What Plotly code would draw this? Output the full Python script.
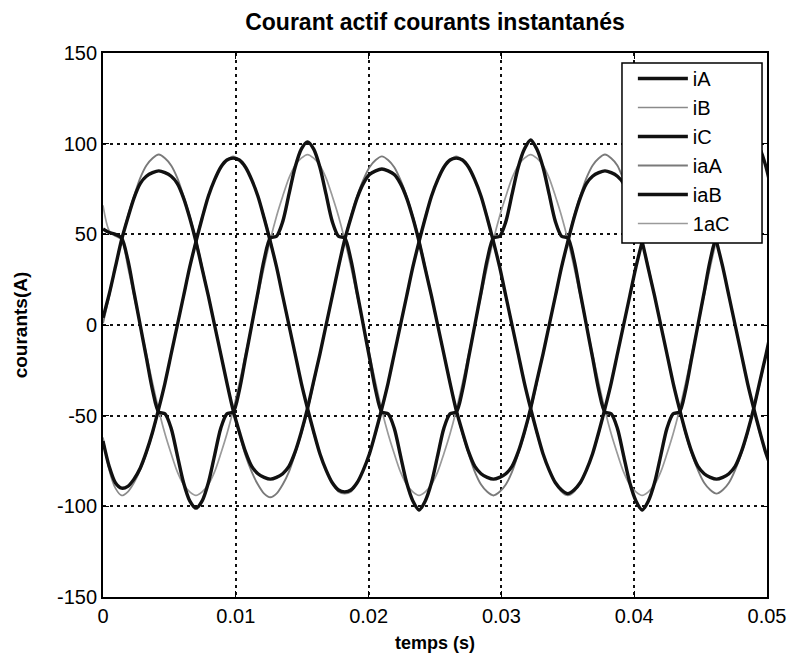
import plotly.graph_objects as go

# Sampling of the traces: one sample every 10 degrees
# of a 0.0168 s period, starting at t = 0
T_START = 0.0
T_STEP = 0.0168 / 36

iA = [4, 17, 32, 47, 59, 70, 78, 82, 84, 85, 84, 82, 78, 70, 59, 46, 31, 16, 0, -16, -32, -47, -59, -70, -78, -82, -84, -85, -84, -82, -78, -70, -59, -46, -31, -16,
      0, 16, 32, 47, 59, 70, 78, 83, 85, 86, 85, 83, 78, 70, 59, 46, 31, 16, 0, -16, -32, -47, -59, -70, -78, -82, -84, -85, -84, -82, -78, -70, -59, -46, -31, -16,
      0, 16, 32, 46, 59, 70, 78, 82, 84, 85, 84, 82, 78, 70, 59, 46, 31, 16, 0, -16, -32, -46, -59, -70, -78, -82, -84, -85, -84, -82, -78, -70, -59, -46, -31, -16,
      0]

iB = [-62, -80, -90, -94, -92, -87, -80, -71, -60, -46, -32, -16, 0, 16, 32, 47, 60, 71, 80, 87, 91, 93, 91, 87, 80, 71, 60, 47, 32, 16, 0, -16, -32, -46, -60, -71,
      -80, -87, -92, -93, -92, -87, -80, -71, -60, -46, -32, -16, 0, 16, 32, 46, 60, 71, 80, 87, 91, 93, 91, 87, 80, 71, 60, 46, 32, 16, 0, -16, -32, -46, -60, -71,
      -80, -87, -92, -94, -92, -87, -80, -71, -60, -46, -32, -16, 0, 16, 32, 46, 60, 71, 80, 87, 91, 93, 91, 87, 80, 71, 60, 46, 32, 16, 0, -16, -32, -46, -60, -71,
      -80]

iC = [53, 51, 50, 48, 36, 18, 0, -18, -36, -48, -49, -57, -72, -87, -97, -101, -97, -87, -72, -57, -49, -48, -36, -18, 0, 18, 36, 48, 49, 57, 72, 87, 97, 101, 97, 87,
      72, 57, 49, 48, 36, 18, 0, -18, -36, -48, -49, -57, -72, -87, -97, -102, -97, -87, -72, -57, -49, -48, -36, -18, 0, 18, 36, 48, 49, 57, 72, 87, 97, 102, 97, 87,
      72, 57, 49, 48, 36, 18, 0, -18, -36, -48, -49, -57, -72, -87, -97, -102, -97, -87, -72, -57, -49, -48, -36, -18, 0, 18, 36, 48, 49, 57, 72, 87, 97, 101, 97, 87,
      72]

iaA = [1, 16, 32, 47, 60, 71, 81, 88, 92, 94, 92, 88, 81, 71, 60, 47, 32, 16, 0, -16, -32, -47, -60, -72, -81, -88, -93, -95, -93, -88, -81, -71, -60, -47, -32, -16,
       0, 16, 32, 47, 60, 71, 80, 87, 91, 93, 91, 87, 80, 71, 60, 47, 32, 16, 0, -16, -32, -47, -60, -71, -81, -88, -92, -94, -92, -88, -81, -71, -60, -47, -32, -16,
       0, 16, 32, 46, 60, 71, 81, 88, 92, 94, 92, 88, 80, 71, 60, 46, 32, 16, 0, -16, -32, -46, -60, -71, -80, -87, -91, -93, -91, -87, -80, -71, -60, -46, -32, -16,
       0]

iaB = [-64, -78, -87, -90, -89, -85, -79, -70, -59, -46, -32, -16, 0, 16, 32, 46, 59, 71, 80, 87, 91, 92, 91, 87, 80, 71, 59, 46, 32, 16, 0, -16, -32, -46, -59, -71,
       -80, -87, -91, -92, -91, -87, -80, -71, -59, -46, -32, -16, 0, 16, 32, 46, 59, 71, 80, 87, 91, 92, 91, 87, 80, 71, 59, 46, 32, 16, 0, -16, -32, -46, -59, -71,
       -80, -87, -91, -93, -91, -87, -80, -71, -59, -46, -32, -16, 0, 16, 32, 46, 59, 71, 80, 87, 91, 92, 91, 87, 80, 71, 59, 46, 32, 16, 0, -16, -32, -46, -59, -71,
       -80]

iaC = [66, 52, 49, 47, 32, 16, 0, -16, -32, -47, -60, -71, -81, -88, -92, -94, -92, -88, -81, -71, -60, -47, -32, -16, 0, 16, 32, 47, 60, 71, 81, 88, 92, 94, 92, 88,
       81, 71, 60, 47, 32, 16, 0, -16, -32, -47, -60, -71, -81, -88, -92, -94, -92, -88, -81, -71, -60, -47, -32, -16, 0, 16, 32, 47, 60, 71, 81, 88, 92, 94, 92, 88,
       81, 71, 60, 47, 32, 16, 0, -16, -32, -47, -60, -71, -81, -88, -92, -94, -92, -88, -81, -71, -60, -47, -32, -16, 0, 16, 32, 47, 60, 71, 81, 88, 92, 93, 92, 88,
       81]

series_names = ["iA", "iB", "iC", "iaA", "iaB", "1aC"]
series_values = [iA, iB, iC, iaA, iaB, iaC]
series_colors = ["#111111", "#8a8a8a", "#111111", "#7a7a7a", "#111111", "#9a9a9a"]
series_widths = [3.4, 1.7, 3.4, 1.9, 3.4, 1.7]

x_ticks = [0, 0.01, 0.02, 0.03, 0.04, 0.05]
x_ticktext = ["0", "0.01", "0.02", "0.03", "0.04", "0.05"]
y_ticks = [-150, -100, -50, 0, 50, 100, 150]
y_ticktext = ["-150", "-100", "-50", "0", "50", "100", "150"]

FONT = "Liberation Sans, Arial, sans-serif"

fig = go.Figure()
order = [1, 3, 5, 0, 2, 4]
for i in order:
    fig.add_trace(go.Scatter(
        x0=T_START, dx=T_STEP, y=series_values[i],
        mode="lines", name=series_names[i],
        line=dict(color=series_colors[i], width=series_widths[i], shape="spline", smoothing=0.8),
        legendrank=i + 1, legendgroup=series_names[i],
    ))

axis_common = dict(
    showline=True, linecolor="black", linewidth=1.8, mirror="ticks",
    ticks="inside", ticklen=6, tickwidth=1.4, tickcolor="black",
    showgrid=True, gridcolor="#111111", gridwidth=1.6, griddash="3px,4px",
    zeroline=False,
    tickfont=dict(family=FONT, size=20, color="black"),
)

fig.update_xaxes(range=[0, 0.05], tickvals=x_ticks, ticktext=x_ticktext,
                 title=dict(text="temps (s)", font=dict(family=FONT, size=18, color="black", weight="bold"), standoff=10),
                 **axis_common)
fig.update_yaxes(range=[-150, 150], tickvals=y_ticks, ticktext=y_ticktext,
                 title=dict(text="courants(A)", font=dict(family=FONT, size=19, color="black", weight="bold"), standoff=24),
                 **axis_common)

# legend frame (paper coordinates of the plot area)
fig.add_shape(type="rect", xref="paper", yref="paper",
              x0=0.7816, x1=0.9925, y0=0.6507, y1=0.9816,
              fillcolor="white", line=dict(color="black", width=1.5), layer="above")

fig.update_layout(
    width=802, height=664,
    margin=dict(l=103, r=35, t=53, b=67),
    paper_bgcolor="white", plot_bgcolor="white",
    title=dict(text="Courant actif courants instantanés", x=0.5, xref="paper",
               y=1 - 22 / 664, yref="container", yanchor="middle", xanchor="center",
               font=dict(family=FONT, size=23, color="black", weight="bold")),
    legend=dict(x=0.798, y=0.989, xanchor="left", yanchor="top",
                bgcolor="rgba(0,0,0,0)", borderwidth=0,
                font=dict(family=FONT, size=20, color="black"),
                traceorder="grouped", tracegroupgap=0, itemwidth=50),
    showlegend=True,
)

fig.write_html("out.html")
